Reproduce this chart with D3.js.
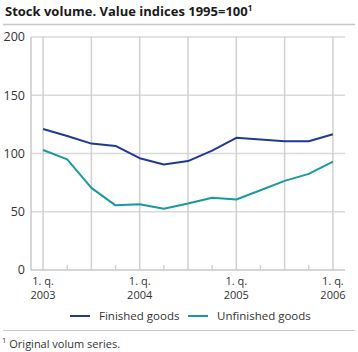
<!DOCTYPE html>
<html>
<head>
<meta charset="utf-8">
<style>
  body { margin: 0; background: #fff; }
  svg { font-family: "Open Sans", "Liberation Sans", sans-serif; }
</style>
</head>
<body>
<svg width="358" height="352"></svg>
<script src="https://d3js.org/d3.v7.min.js"></script>
<script>

    var quarters = ["2003Q1","2003Q2","2003Q3","2003Q4","2004Q1","2004Q2","2004Q3","2004Q4",
                    "2005Q1","2005Q2","2005Q3","2005Q4","2006Q1"];
    var finishedGoods = [121, 115, 108.5, 106.5, 96, 90.5, 93.5, 102.5, 113.5, 112, 110.5, 110.5, 116.5];
    var unfinishedGoods = [103, 95, 70.5, 55.5, 56.5, 52.5, 57, 62, 60.5, 68.5, 76.5, 82.5, 93];
    var yTicks = [0, 50, 100, 150, 200];
    var seriesNames = ["Finished goods", "Unfinished goods"];
    var colors = ["#1f3996", "#1a9a9a"];

    var svg = d3.select("svg"),
        margin = {top: 37, right: 13, bottom: 82, left: 31},
        width = +svg.attr("width") - margin.left - margin.right,
        height = +svg.attr("height") - margin.top - margin.bottom,
        g = svg.append("g").attr("transform", "translate(" + margin.left + "," + margin.top + ")");

    // title
    svg.append("text")
        .attr("x", 5).attr("y", 16)
        .attr("font-size", 13).attr("font-weight", "bold").attr("fill", "#1a1a1a")
        .text("Stock volume. Value indices 1995=100")
        .append("tspan").attr("font-size", 8).attr("dy", -5).text("1");

    svg.append("line").attr("x1", 3).attr("x2", 355).attr("y1", 24.5).attr("y2", 24.5)
        .attr("stroke", "#c8c8c8").attr("stroke-width", 1.5);

    var x = d3.scaleLinear().domain([-0.5, quarters.length - 0.5]).range([0, width]);
    var y = d3.scaleLinear().domain([0, 200]).range([height, 0]);

    // horizontal gridlines
    g.selectAll(".hgrid").data(yTicks.filter(function(d) { return d > 0; }))
        .enter().append("line")
        .attr("x1", 0).attr("x2", width)
        .attr("y1", function(d) { return y(d); }).attr("y2", function(d) { return y(d); })
        .attr("stroke", "#d9d9d9").attr("stroke-width", 1.5);

    // vertical gridlines every half year, short ticks between
    g.selectAll(".vgrid").data(quarters)
        .enter().append("line")
        .attr("x1", function(d, i) { return x(i); }).attr("x2", function(d, i) { return x(i); })
        .attr("y1", function(d, i) { return i % 2 === 0 ? 0 : height - 5; })
        .attr("y2", height)
        .attr("stroke", "#d0d0d0").attr("stroke-width", 1.5);

    // axes lines
    g.append("line").attr("x1", 0).attr("x2", 0).attr("y1", 0).attr("y2", height)
        .attr("stroke", "#c8c8c8").attr("stroke-width", 1.5);
    g.append("line").attr("x1", 0).attr("x2", width).attr("y1", height).attr("y2", height)
        .attr("stroke", "#c8c8c8").attr("stroke-width", 1.5);

    // y labels
    g.selectAll(".ylab").data(yTicks)
        .enter().append("text")
        .attr("x", -6).attr("y", function(d) { return y(d); })
        .attr("dy", "0.35em").attr("text-anchor", "end")
        .attr("font-size", 12.5).attr("fill", "#333")
        .text(function(d) { return d; });

    // x labels on first quarters
    var xl = g.selectAll(".xlab").data(quarters.filter(function(q) { return /Q1$/.test(q); }))
        .enter().append("text")
        .attr("text-anchor", "middle")
        .attr("font-size", 11).attr("fill", "#333")
        .attr("transform", function(q) { return "translate(" + x(quarters.indexOf(q)) + "," + (height + 14.5) + ")"; });
    xl.append("tspan").attr("x", 0).attr("y", 0).text("1. q.");
    xl.append("tspan").attr("x", 0).attr("y", 14).text(function(q) { return q.slice(0, 4); });

    var line = d3.line()
        .x(function(d, i) { return x(i); })
        .y(function(d) { return y(d); });

    [finishedGoods, unfinishedGoods].forEach(function(s, k) {
        g.append("path").datum(s)
            .attr("fill", "none").attr("stroke", colors[k]).attr("stroke-width", 2)
            .attr("stroke-linejoin", "round")
            .attr("d", line);
    });

    // legend
    var legendX = [70, 188];
    seriesNames.forEach(function(n, k) {
        svg.append("line").attr("x1", legendX[k]).attr("x2", legendX[k] + 20)
            .attr("y1", 316).attr("y2", 316).attr("stroke", colors[k]).attr("stroke-width", 2);
        svg.append("text").attr("x", legendX[k] + 29).attr("y", 320)
            .attr("font-size", 11.5).attr("fill", "#333").text(n);
    });

    svg.append("line").attr("x1", 3).attr("x2", 355).attr("y1", 330.5).attr("y2", 330.5)
        .attr("stroke", "#c8c8c8").attr("stroke-width", 1);

    var fn = svg.append("text").attr("x", 2).attr("y", 348)
        .attr("font-size", 11).attr("fill", "#333");
    fn.append("tspan").attr("font-size", 7.5).attr("dy", -5).text("1");
    fn.append("tspan").attr("dx", 3).attr("dy", 5).text("Original volum series.");

</script>
</body>
</html>
